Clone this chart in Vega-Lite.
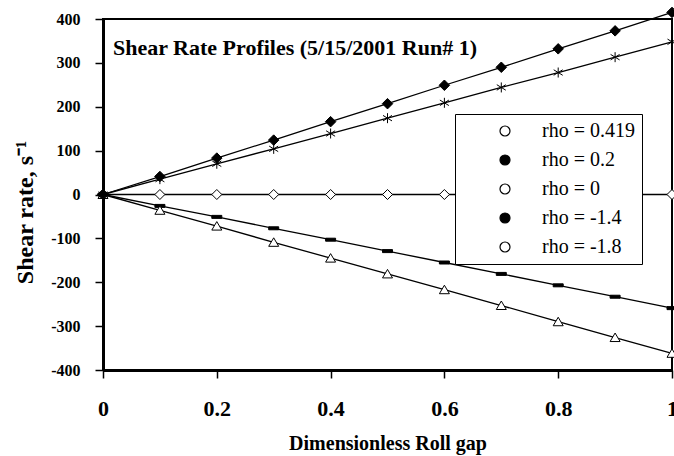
{
  "$schema": "https://vega.github.io/schema/vega-lite/v6.json",
  "width": 569,
  "height": 351,
  "autosize": "none",
  "padding": {"left": 103, "top": 19, "right": 2, "bottom": 86},
  "background": "white",
  "config": {
    "font": "Liberation Serif",
    "view": {"stroke": "black", "strokeWidth": 2},
    "axis": {
      "grid": false,
      "domainColor": "black",
      "domainWidth": 3,
      "tickColor": "black",
      "tickWidth": 1.5,
      "tickSize": 8,
      "labelColor": "black",
      "labelFont": "Liberation Serif",
      "labelFontWeight": "bold",
      "titleColor": "black",
      "titleFont": "Liberation Serif",
      "titleFontWeight": "bold"
    },
    "legend": {
      "title": null,
      "orient": "none",
      "legendX": 352,
      "legendY": 95,
      "fillColor": "white",
      "strokeColor": "black",
      "padding": 7,
      "symbolSize": 100,
      "symbolOffset": 33,
      "symbolStrokeColor": "black",
      "symbolStrokeWidth": 1.2,
      "labelFont": "Liberation Serif",
      "labelFontSize": 20,
      "labelColor": "black",
      "labelOffset": 27,
      "rowPadding": 9
    }
  },
  "datasets": {
    "profiles": [
      {"gap": 0.0, "rate": 0, "rho": "rho = 0.419"},
      {"gap": 0.1, "rate": 0, "rho": "rho = 0.419"},
      {"gap": 0.2, "rate": 0, "rho": "rho = 0.419"},
      {"gap": 0.3, "rate": 0, "rho": "rho = 0.419"},
      {"gap": 0.4, "rate": 0, "rho": "rho = 0.419"},
      {"gap": 0.5, "rate": 0, "rho": "rho = 0.419"},
      {"gap": 0.6, "rate": 0, "rho": "rho = 0.419"},
      {"gap": 0.7, "rate": 0, "rho": "rho = 0.419"},
      {"gap": 0.8, "rate": 0, "rho": "rho = 0.419"},
      {"gap": 0.9, "rate": 0, "rho": "rho = 0.419"},
      {"gap": 1.0, "rate": 0, "rho": "rho = 0.419"},
      {"gap": 0.0, "rate": 0, "rho": "rho = 0.2"},
      {"gap": 0.1, "rate": -26, "rho": "rho = 0.2"},
      {"gap": 0.2, "rate": -51, "rho": "rho = 0.2"},
      {"gap": 0.3, "rate": -77, "rho": "rho = 0.2"},
      {"gap": 0.4, "rate": -103, "rho": "rho = 0.2"},
      {"gap": 0.5, "rate": -129, "rho": "rho = 0.2"},
      {"gap": 0.6, "rate": -155, "rho": "rho = 0.2"},
      {"gap": 0.7, "rate": -181, "rho": "rho = 0.2"},
      {"gap": 0.8, "rate": -207, "rho": "rho = 0.2"},
      {"gap": 0.9, "rate": -233, "rho": "rho = 0.2"},
      {"gap": 1.0, "rate": -259, "rho": "rho = 0.2"},
      {"gap": 0.0, "rate": 0, "rho": "rho = 0"},
      {"gap": 0.1, "rate": -36, "rho": "rho = 0"},
      {"gap": 0.2, "rate": -72, "rho": "rho = 0"},
      {"gap": 0.3, "rate": -109, "rho": "rho = 0"},
      {"gap": 0.4, "rate": -145, "rho": "rho = 0"},
      {"gap": 0.5, "rate": -181, "rho": "rho = 0"},
      {"gap": 0.6, "rate": -217, "rho": "rho = 0"},
      {"gap": 0.7, "rate": -253, "rho": "rho = 0"},
      {"gap": 0.8, "rate": -290, "rho": "rho = 0"},
      {"gap": 0.9, "rate": -326, "rho": "rho = 0"},
      {"gap": 1.0, "rate": -362, "rho": "rho = 0"},
      {"gap": 0.0, "rate": 0, "rho": "rho = -1.4"},
      {"gap": 0.1, "rate": 41, "rho": "rho = -1.4"},
      {"gap": 0.2, "rate": 83, "rho": "rho = -1.4"},
      {"gap": 0.3, "rate": 124, "rho": "rho = -1.4"},
      {"gap": 0.4, "rate": 166, "rho": "rho = -1.4"},
      {"gap": 0.5, "rate": 207, "rho": "rho = -1.4"},
      {"gap": 0.6, "rate": 249, "rho": "rho = -1.4"},
      {"gap": 0.7, "rate": 290, "rho": "rho = -1.4"},
      {"gap": 0.8, "rate": 332, "rho": "rho = -1.4"},
      {"gap": 0.9, "rate": 373, "rho": "rho = -1.4"},
      {"gap": 1.0, "rate": 415, "rho": "rho = -1.4"},
      {"gap": 0.0, "rate": 0, "rho": "rho = -1.8"},
      {"gap": 0.1, "rate": 35, "rho": "rho = -1.8"},
      {"gap": 0.2, "rate": 70, "rho": "rho = -1.8"},
      {"gap": 0.3, "rate": 104, "rho": "rho = -1.8"},
      {"gap": 0.4, "rate": 139, "rho": "rho = -1.8"},
      {"gap": 0.5, "rate": 174, "rho": "rho = -1.8"},
      {"gap": 0.6, "rate": 209, "rho": "rho = -1.8"},
      {"gap": 0.7, "rate": 244, "rho": "rho = -1.8"},
      {"gap": 0.8, "rate": 278, "rho": "rho = -1.8"},
      {"gap": 0.9, "rate": 313, "rho": "rho = -1.8"},
      {"gap": 1.0, "rate": 348, "rho": "rho = -1.8"}
    ],
    "heading": [
      {"label": "Shear Rate Profiles (5/15/2001 Run# 1)"}
    ]
  },
  "layer": [
    {
      "data": {"name": "profiles"},
      "mark": {"type": "line", "color": "black", "strokeWidth": 1.3, "clip": false},
      "encoding": {
        "x": {
          "field": "gap",
          "type": "quantitative",
          "scale": {"domain": [0, 1], "nice": false, "zero": false},
          "axis": {
            "title": "Dimensionless Roll gap",
            "values": [0, 0.2, 0.4, 0.6, 0.8, 1],
            "labelExpr": "'' + datum.value",
            "labelFontSize": 22,
            "labelPadding": 20,
            "labelFlush": false,
            "labelOverlap": false,
            "titleFontSize": 20,
            "titlePadding": 14
          }
        },
        "y": {
          "field": "rate",
          "type": "quantitative",
          "scale": {"domain": [-400, 400], "nice": false},
          "axis": {
            "title": "Shear rate, s⁻¹",
            "values": [-400, -300, -200, -100, 0, 100, 200, 300, 400],
            "labelExpr": "'' + datum.value",
            "labelFontSize": 16,
            "labelPadding": 15,
            "labelFlush": false,
            "labelOverlap": false,
            "titleFontSize": 24,
            "titleX": -71,
            "titleY": 193,
            "titleAngle": 270,
            "titleAlign": "center",
            "titleBaseline": "alphabetic"
          }
        },
        "detail": {"field": "rho", "type": "nominal"}
      }
    },
    {
      "data": {"name": "profiles"},
      "mark": {"type": "point", "stroke": "black", "strokeWidth": 1, "size": 100, "opacity": 1, "clip": false},
      "encoding": {
        "x": {"field": "gap", "type": "quantitative"},
        "y": {"field": "rate", "type": "quantitative"},
        "shape": {
          "field": "rho",
          "type": "nominal",
          "scale": {
            "domain": ["rho = 0.2", "rho = 0.419", "rho = 0", "rho = -1.4", "rho = -1.8"],
            "range": [
              "M-1,-0.3H1V0.3H-1Z",
              "M0,-1L1,0L0,1L-1,0Z",
              "M0,-0.9L1,0.8H-1Z",
              "M0,-1.05L1.05,0L0,1.05L-1.05,0Z",
              "M0,-1V1M-0.9,-0.55L0.9,0.55M-0.9,0.55L0.9,-0.55"
            ]
          },
          "legend": null
        },
        "fill": {
          "field": "rho",
          "type": "nominal",
          "scale": {
            "domain": ["rho = 0.419", "rho = 0.2", "rho = 0", "rho = -1.4", "rho = -1.8"],
            "range": ["white", "black", "white", "black", "transparent"]
          },
          "legend": {
            "labelExpr": "datum.label + '\u00a0\u00a0\u00a0'",
            "encode": {
              "symbols": {
                "stroke": {"value": "black"},
                "strokeWidth": {"value": 1.2}
              }
            }
          }
        }
      }
    },
    {
      "data": {"name": "heading"},
      "mark": {
        "type": "text",
        "align": "left",
        "baseline": "alphabetic",
        "font": "Liberation Serif",
        "fontSize": 22,
        "fontWeight": "bold",
        "color": "black"
      },
      "encoding": {
        "x": {"datum": 0.0176, "type": "quantitative"},
        "y": {"datum": 317, "type": "quantitative"},
        "text": {"field": "label", "type": "nominal"}
      }
    }
  ]
}
